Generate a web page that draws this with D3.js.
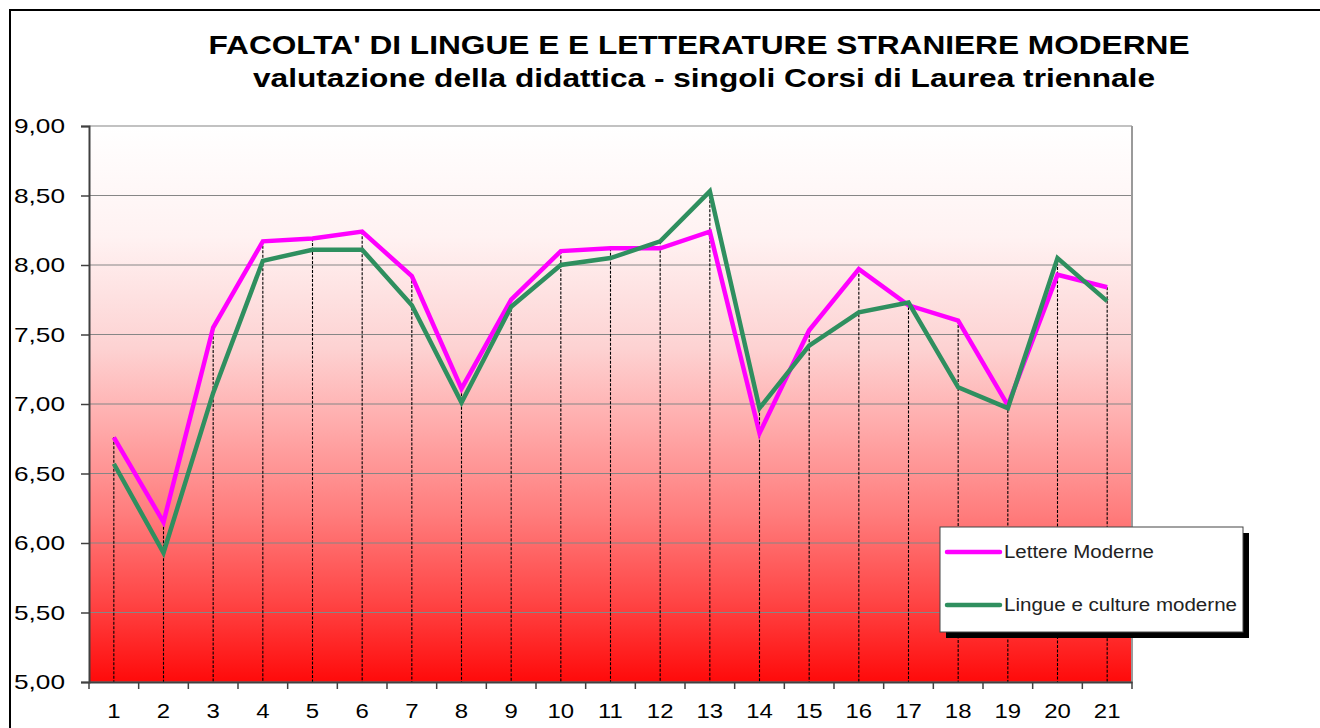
<!DOCTYPE html>
<html>
<head>
<meta charset="utf-8">
<script src="https://cdn.jsdelivr.net/npm/d3@7"></script>
<style>
  html, body { margin: 0; padding: 0; background: #fff; }
  svg { display: block; font-family: "Liberation Sans", Arial, sans-serif; }
</style>
</head>
<body>
<div id="chart"></div>
<script>
(function() {
  'use strict';

  var
    WIDTH = 1320,
    HEIGHT = 728,
    MARGIN = {left: 89, right: 1132, top: 126, bottom: 682},

    titleLines = [
      "FACOLTA' DI LINGUE E E LETTERATURE STRANIERE MODERNE",
      'valutazione della didattica - singoli Corsi di Laurea triennale'
    ],

    categories = ['1', '2', '3', '4', '5', '6', '7', '8', '9', '10', '11',
                  '12', '13', '14', '15', '16', '17', '18', '19', '20', '21'],

    lettereModerne = [6.76, 6.15, 7.55, 8.17, 8.19, 8.24, 7.92, 7.11, 7.75, 8.10, 8.12,
                      8.12, 8.24, 6.79, 7.53, 7.97, 7.71, 7.60, 6.99, 7.93, 7.84],

    lingueCulture = [6.57, 5.93, 7.08, 8.03, 8.11, 8.11, 7.71, 7.01, 7.70, 8.00, 8.05,
                     8.17, 8.53, 6.97, 7.42, 7.66, 7.73, 7.12, 6.97, 8.05, 7.74],

    yTicks = [5, 5.5, 6, 6.5, 7, 7.5, 8, 8.5, 9],

    seriesNames = ['Lettere Moderne', 'Lingue e culture moderne'],
    seriesColors = ['#ff00ff', '#2f8f5f'];

  var svg = d3.select('#chart')
    .append('svg')
    .attr('width', WIDTH)
    .attr('height', HEIGHT);

  var x = d3.scaleBand()
    .domain(categories)
    .range([MARGIN.left, MARGIN.right])
    .paddingInner(0)
    .paddingOuter(0);

  var y = d3.scaleLinear()
    .domain([5, 9])
    .range([MARGIN.bottom, MARGIN.top]);

  // chart border
  svg.append('rect')
    .attr('x', 10)
    .attr('y', 10)
    .attr('width', 1400)
    .attr('height', 800)
    .attr('fill', 'none')
    .attr('stroke', '#000')
    .attr('stroke-width', 2);

  // background gradient
  var grad = svg.append('defs')
    .append('linearGradient')
    .attr('id', 'bg')
    .attr('x1', 0).attr('y1', 0)
    .attr('x2', 0).attr('y2', 1);

  [[0, '#ffffff'], [0.2, '#fff2f2'], [0.4, '#fdd2d2'], [0.5, '#ffb6b6'],
   [0.7, '#ff7c7c'], [0.85, '#ff4747'], [1, '#ff0a0a']].forEach(function(s) {
    grad.append('stop')
      .attr('offset', s[0])
      .attr('stop-color', s[1]);
  });

  svg.append('rect')
    .attr('x', MARGIN.left)
    .attr('y', y(9))
    .attr('width', MARGIN.right - MARGIN.left)
    .attr('height', y(5) - y(9))
    .attr('fill', 'url(#bg)');

  // grid lines
  svg.append('g')
    .selectAll('line')
    .data(yTicks)
    .enter()
    .append('line')
    .attr('x1', MARGIN.left)
    .attr('x2', MARGIN.right)
    .attr('y1', function(d) { return y(d); })
    .attr('y2', function(d) { return y(d); })
    .attr('stroke', '#868686')
    .attr('stroke-width', 1.2);

  // right border of plot
  svg.append('line')
    .attr('x1', MARGIN.right).attr('x2', MARGIN.right)
    .attr('y1', y(9)).attr('y2', y(5))
    .attr('stroke', '#9a9a9a')
    .attr('stroke-width', 2);

  // drop lines
  svg.append('g')
    .selectAll('line')
    .data(categories)
    .enter()
    .append('line')
    .attr('x1', function(d) { return x(d) + x.bandwidth() / 2; })
    .attr('x2', function(d) { return x(d) + x.bandwidth() / 2; })
    .attr('y1', function(d, i) { return y(Math.max(lettereModerne[i], lingueCulture[i])); })
    .attr('y2', y(5))
    .attr('stroke', '#000')
    .attr('stroke-width', 1.1)
    .attr('stroke-dasharray', '3,1.5');

  // series lines
  var line = d3.line()
    .x(function(d, i) { return x(categories[i]) + x.bandwidth() / 2; })
    .y(function(d) { return y(d); });

  [lettereModerne, lingueCulture].forEach(function(values, i) {
    svg.append('path')
      .datum(values)
      .attr('d', line)
      .attr('fill', 'none')
      .attr('stroke', seriesColors[i])
      .attr('stroke-width', 4.5)
      .attr('stroke-linejoin', 'miter');
  });

  // y axis
  var yAxis = svg.append('g')
    .attr('transform', 'translate(' + MARGIN.left + ',0)')
    .call(d3.axisLeft(y)
      .tickValues(yTicks)
      .tickSize(8)
      .tickPadding(16)
      .tickFormat(function(d) { return d3.format('.2f')(d).replace('.', ','); }));

  yAxis.select('.domain').attr('stroke', '#404040').attr('stroke-width', 2);
  yAxis.selectAll('.tick line').attr('stroke', '#404040').attr('stroke-width', 1.5);
  yAxis.selectAll('.tick text')
    .attr('fill', '#000')
    .attr('textLength', 51)
    .attr('lengthAdjust', 'spacingAndGlyphs')
    .style('font-size', '21px')
    .style('font-family', '"Liberation Sans", Arial, sans-serif');

  // x axis
  var xAxis = svg.append('g')
    .attr('transform', 'translate(0,' + MARGIN.bottom + ')')
    .call(d3.axisBottom(x)
      .tickSize(0)
      .tickPadding(21));

  xAxis.select('.domain').attr('stroke', '#404040').attr('stroke-width', 2);
  xAxis.selectAll('.tick text')
    .attr('fill', '#000')
    .attr('transform', 'scale(1.14,1)')
    .style('font-size', '21px')
    .style('font-family', '"Liberation Sans", Arial, sans-serif');

  xAxis.selectAll('.boundary')
    .data(d3.range(categories.length + 1))
    .enter()
    .append('line')
    .attr('class', 'boundary')
    .attr('x1', function(i) { return MARGIN.left + i * x.step(); })
    .attr('x2', function(i) { return MARGIN.left + i * x.step(); })
    .attr('y1', 0)
    .attr('y2', 7)
    .attr('stroke', '#404040')
    .attr('stroke-width', 1.5);

  // title
  svg.selectAll('.title')
    .data(titleLines)
    .enter()
    .append('text')
    .attr('class', 'title')
    .attr('x', function(d, i) { return i === 0 ? 699 : 704; })
    .attr('y', function(d, i) { return 54 + i * 33; })
    .attr('text-anchor', 'middle')
    .attr('font-size', '26px')
    .attr('font-weight', 'bold')
    .attr('fill', '#000')
    .attr('textLength', function(d, i) { return i === 0 ? 981 : 902; })
    .attr('lengthAdjust', 'spacingAndGlyphs')
    .text(function(d) { return d; });

  // legend
  var legend = svg.append('g')
    .attr('transform', 'translate(940,527)');

  legend.append('rect')
    .attr('x', 6).attr('y', 6)
    .attr('width', 303).attr('height', 105)
    .attr('fill', '#000');

  legend.append('rect')
    .attr('width', 303).attr('height', 105)
    .attr('fill', '#fff')
    .attr('stroke', '#444')
    .attr('stroke-width', 1);

  var items = legend.selectAll('.item')
    .data(seriesNames)
    .enter()
    .append('g')
    .attr('class', 'item')
    .attr('transform', function(d, i) { return 'translate(0,' + (25 + i * 53) + ')'; });

  items.append('line')
    .attr('x1', 7).attr('x2', 60)
    .attr('stroke', function(d, i) { return seriesColors[i]; })
    .attr('stroke-width', 4.5)
    .attr('stroke-linecap', 'round');

  items.append('text')
    .attr('x', 64)
    .attr('y', 6)
    .attr('font-size', '18px')
    .attr('fill', '#222')
    .attr('textLength', function(d, i) { return i === 0 ? 150 : 233; })
    .attr('lengthAdjust', 'spacingAndGlyphs')
    .text(function(d) { return d; });
})();
</script>
</body>
</html>
